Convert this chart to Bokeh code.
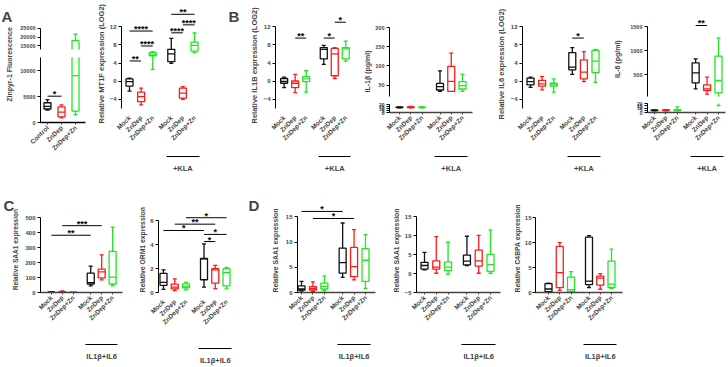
import math
from bokeh.plotting import figure
from bokeh.layouts import row, column
from bokeh.models import Range1d, FixedTicker, LinearAxis, Label, Title, ColumnDataSource
from bokeh.embed import file_html
from bokeh.resources import INLINE
from bokeh.core.properties import value

FONT = "Liberation Sans"
BLACK, RED, GREEN = "#111111", "#ff1a1a", "#22e622"
SERIES_COLORS = [BLACK, RED, GREEN, BLACK, RED, GREEN]

# box positions on the x scale (treated group set apart from the untreated one)
X3 = [10, 20, 30]
X6 = [10, 20, 30, 46, 56, 66]
CAT3 = ["Control", "ZnDep", "ZnDep+Zn"]
CAT6 = ["Mock", "ZnDep", "ZnDep+Zn", "Mock", "ZnDep", "ZnDep+Zn"]

# ---------------- data: whisker low, Q1, median, Q3, whisker high ----------------
# A: Zinpyr-1 fluorescence
zinpyr_lo = [2400, 900, 1500]
zinpyr_q1 = [2600, 1100, 2200]
zinpyr_med = [3100, 2000, 9000]
zinpyr_q3 = [3800, 3000, 18000]
zinpyr_hi = [4400, 3400, 21700]

# A: MT1F (LOG2)
mt1f_lo = [-2.2, -5.2, 2.6, 3.9, -4.0, 6.3]
mt1f_q1 = [-1.1, -4.5, 5.6, 4.3, -3.7, 6.6]
mt1f_med = [-0.1, -3.4, 5.8, 6.0, -2.6, 7.9]
mt1f_q3 = [0.5, -2.4, 6.3, 7.0, -1.5, 8.6]
mt1f_hi = [0.65, -1.5, 6.5, 9.4, -1.2, 10.6]

# B: IL1B (LOG2)
il1b_lo = [-1.4, -2.5, -2.4, 3.7, 0.6, 4.4]
il1b_q1 = [-0.45, -1.4, -0.1, 4.9, 1.2, 4.9]
il1b_med = [-0.05, -0.45, 0.5, 7.0, 6.0, 7.1]
il1b_q3 = [0.6, 0.05, 1.0, 7.4, 7.2, 7.4]
il1b_hi = [0.9, 1.5, 2.3, 7.9, 7.4, 8.8]

# B: IL-1beta protein (pg/ml)
il1b_pg_lo = [11.5, 11.5, 11.5, 33.5, 33.5, 33.5]
il1b_pg_q1 = [12.5, 12.5, 12.2, 37, 33.5, 39.6]
il1b_pg_med = [13, 13.2, 12.8, 46, 59.5, 48.3]
il1b_pg_q3 = [13.6, 14, 13.6, 54, 98.5, 58.7]
il1b_pg_hi = [14.2, 15, 14.5, 87, 133, 78.6]

# B: IL6 (LOG2)
il6_lo = [-1.35, -1.9, -2.4, 1.5, -0.1, -0.25]
il6_q1 = [-0.8, -1.1, -1.1, 2.5, 0.5, 1.9]
il6_med = [-0.1, -0.6, -0.8, 3.1, 2.0, 4.4]
il6_q3 = [0.7, 0.2, -0.45, 6.3, 4.7, 6.8]
il6_hi = [0.9, 1.0, 0.5, 7.4, 6.5, 7.0]

# B: IL-6 protein (pg/ml)
il6_pg_lo = [3.5, 3.8, 3.8, 201, 90, 15.4]
il6_pg_q1 = [4.0, 4.2, 4.2, 326, 167, 118]
il6_pg_med = [4.6, 5.0, 5.0, 535, 201, 375]
il6_pg_q3 = [5.2, 5.8, 6.5, 743, 285, 882]
il6_pg_hi = [5.8, 6.3, 12.3, 826, 444, 1264]

# C: SAA1
c_saa1_lo = [1.0, 1.5, 1.2, 44, 85, 44]
c_saa1_q1 = [1.5, 2.5, 2.0, 57, 97.5, 57]
c_saa1_med = [2.0, 4.0, 3.5, 66, 138, 103]
c_saa1_q3 = [2.5, 6.0, 5.0, 129, 156, 275]
c_saa1_hi = [3.0, 10.0, 6.5, 177, 252, 438]

# C: ORM1
orm1_lo = [0.27, 0.15, 0.22, 0.45, 0.33, 0.3]
orm1_q1 = [0.6, 0.3, 0.4, 1.07, 0.78, 0.56]
orm1_med = [0.85, 0.45, 0.53, 2.82, 1.9, 1.67]
orm1_q3 = [1.6, 0.7, 0.73, 2.85, 2.0, 2.0]
orm1_hi = [1.9, 1.15, 0.85, 4.07, 2.27, 2.1]

# D: SAA1 (first set)
d_saa1_lo = [0.3, 0.25, 0.35, 3.0, 2.5, 0.8]
d_saa1_q1 = [0.5, 0.5, 0.7, 3.85, 3.15, 2.2]
d_saa1_med = [0.7, 0.8, 1.2, 5.95, 5.15, 6.4]
d_saa1_q3 = [1.3, 1.15, 1.85, 8.8, 8.95, 8.7]
d_saa1_hi = [2.2, 2.1, 3.3, 13.8, 12.5, 11.5]

# D: SAA1 (second set)
d2_saa1_lo = [1.0, 0.1, -0.1, 2.15, 0.1, 0.1]
d2_saa1_q1 = [1.2, 1.2, 0.8, 2.3, 2.0, 0.6]
d2_saa1_med = [2.15, 1.7, 1.7, 3.3, 3.4, 2.4]
d2_saa1_q3 = [3.0, 3.4, 3.1, 4.9, 6.2, 5.1]
d2_saa1_hi = [5.6, 9.8, 8.3, 9.9, 10.1, 11.6]

# D: C4BPA
c4bpa_lo = [0.0, 0.43, 0.0, 1.0, 0.65, 0.85]
c4bpa_q1 = [0.16, 0.97, 0.16, 1.6, 1.5, 1.0]
c4bpa_med = [0.7, 4.0, 0.55, 2.3, 2.9, 1.7]
c4bpa_q3 = [1.8, 9.25, 3.1, 11.1, 3.3, 6.3]
c4bpa_hi = [1.9, 10.0, 4.2, 11.4, 3.8, 8.7]

# significance brackets: (box i, box j, bracket height, stars)
zinpyr_sig = [(0, 1, 5060, "*")]
mt1f_sig = [(3, 5, 14.71, "**"), (4, 5, 12.39, "****"), (0, 2, 11.03, "****"),
            (3, 4, 10.64, "****"), (1, 2, 7.74, "****"), (0, 1, 4.45, "**")]
il1b_sig = [(1, 2, 9.48, "**"), (3, 4, 9.48, "*"), (4, 5, 12.97, "*")]
il6_sig = [(3, 4, 9.48, "*")]
il6_pg_sig = [(3, 4, 1521, "**")]
c_saa1_sig = [(0, 3, 383, "**"), (1, 4, 447, "***")]
orm1_sig = [(2, 5, 6.27, "*"), (1, 4, 5.73, "**"), (0, 3, 5.2, "*"),
            (3, 5, 4.87, "*"), (3, 4, 4.27, "*")]
d_saa1_sig = [(0, 3, 16.1, "*"), (1, 4, 14.7, "*")]

# ---------------- layout constants ----------------
TOP_H, TOP_T, TOP_B = 175, 5, 53          # top row: frames span page y 5..122
BOT_H, BOT_T, BOT_B = 192, 20, 50         # bottom row: frames span page y 195..317
TOP_Y0, TOP_Y1 = 5, 122
BOT_Y0, BOT_Y1 = 195, 317


# ---------------- helpers ----------------
def xspan(L, R, first_px, last_px, first=10, last=66):
    s = (last_px - first_px) / (last - first)
    start = first - (first_px - L) / s
    return (start, start + (R - L) / s)


def yspan(T, B, v0, p0, v1, p1):
    s = (p0 - p1) / (v1 - v0)
    return (v0 - (B - p0) / s, v1 + (p1 - T) / s)


def blank(p):
    p.xgrid.visible = False
    p.ygrid.visible = False
    p.outline_line_color = None
    p.background_fill_color = "white"
    p.border_fill_color = "white"


def panel(w, h, l, r, t, b, xr, yr, xaxis=True):
    p = figure(width=w, height=h, x_range=Range1d(*xr), y_range=Range1d(*yr),
               output_backend="svg", toolbar_location=None, tools="",
               x_axis_location="below" if xaxis else None,
               min_border_left=l, min_border_right=r, min_border_top=t, min_border_bottom=b)
    blank(p)
    return p


def text_fig(w, h, t, b, y_top, y_bottom, items):
    # strip holding letters and axis titles, addressed in page pixels
    p = figure(width=w, height=h, x_range=Range1d(0, w), y_range=Range1d(y_bottom, y_top),
               output_backend="svg", toolbar_location=None, tools="",
               x_axis_location=None, y_axis_location=None,
               min_border_left=0, min_border_right=0, min_border_top=t, min_border_bottom=b)
    blank(p)
    for x, y, txt, size, angle in items:
        letter = angle == 0
        p.add_layout(Label(x=x, y=y, text=txt, angle=angle, text_font=FONT,
                           text_font_style="bold", text_font_size=size,
                           text_align="left" if letter else "center",
                           text_baseline="alphabetic" if letter else "middle"))
    return p


def top_text(w, items):
    return text_fig(w, TOP_H, TOP_T, TOP_B, TOP_Y0, TOP_Y1, items)


def bot_text(w, items):
    return text_fig(w, BOT_H, BOT_T, BOT_B, BOT_Y0, BOT_Y1, items)


def ylab(x, y, txt, size="7px"):
    return (x, y, txt, size, math.pi / 2)


def side_title(p, text, offset, standoff, size):
    # axis title starting `offset` px above the bottom of the plot frame
    p.add_layout(Title(text=text, align="left", offset=offset, standoff=standoff,
                       text_font=FONT, text_font_style="bold", text_font_size=size), "left")


def y_axis(p, ticks, bounds, size="6px", standoff=2):
    ax = p.yaxis[0]
    ax.ticker = FixedTicker(ticks=ticks)
    ax.bounds = bounds
    ax.axis_line_color = "black"
    ax.axis_line_width = 1
    ax.major_tick_line_color = "black"
    ax.major_tick_out = 3
    ax.major_tick_in = 0
    ax.minor_tick_line_color = None
    ax.major_label_text_font = FONT
    ax.major_label_text_font_style = "bold"
    ax.major_label_text_font_size = size
    ax.major_label_standoff = standoff


def x_axis(p, ticks, cats, line=True, pad=None):
    ax = p.xaxis[0]
    ax.ticker = FixedTicker(ticks=ticks)
    ax.major_label_overrides = dict(zip(ticks, cats))
    ax.major_label_orientation = math.pi / 4
    ax.major_label_text_font = FONT
    ax.major_label_text_font_style = "bold"
    ax.major_label_text_font_size = "6.5px"
    ax.major_label_standoff = 2
    ax.minor_tick_line_color = None
    if pad:
        # blank axis title: leaves room between the tick labels and the group line
        ax.axis_label = " "
        ax.axis_label_text_font_size = pad
        ax.axis_label_standoff = 0
    if line:
        ax.axis_line_color = "#444444"
        ax.axis_line_width = 1.3
        ax.major_tick_line_color = "#444444"
        ax.major_tick_out = 2
        ax.major_tick_in = 0
    else:
        ax.axis_line_color = None
        ax.major_tick_line_color = None


def group_axis(p, text, standoff=1):
    g = LinearAxis(ticker=FixedTicker(ticks=[56]), major_label_overrides={56: text},
                   bounds=(41.5, 70.5), major_tick_line_color=None, minor_tick_line_color=None,
                   axis_line_color="black", axis_line_width=1.2, major_label_standoff=standoff,
                   major_label_text_font=FONT, major_label_text_font_style="bold",
                   major_label_text_font_size="7.5px")
    p.add_layout(g, "below")


def boxes(p, xs, lo, q1, med, q3, hi):
    src = ColumnDataSource(dict(
        x=xs, lo=lo, q1=q1, med=med, q3=q3, hi=hi, color=SERIES_COLORS[:len(xs)],
        mid=[(a + b) / 2 for a, b in zip(q1, q3)],
        span=[b - a for a, b in zip(q1, q3)]))
    kw = dict(source=src, line_color="color", line_width=1.3)
    p.segment(x0="x", y0="q3", x1="x", y1="hi", **kw)
    p.segment(x0="x", y0="lo", x1="x", y1="q1", **kw)
    p.scatter(x="x", y="hi", marker="dash", size=4, **kw)
    p.scatter(x="x", y="lo", marker="dash", size=4, **kw)
    p.rect(x="x", y="mid", width=7, height="span", width_units="screen",
           fill_color="white", **kw)
    p.scatter(x="x", y="med", marker="dash", size=7, **kw)


def brackets(p, xs, items):
    src = ColumnDataSource(dict(
        x0=[xs[i] for i, j, lv, t in items], x1=[xs[j] for i, j, lv, t in items],
        xm=[(xs[i] + xs[j]) / 2 for i, j, lv, t in items],
        y=[lv for i, j, lv, t in items], t=[t for i, j, lv, t in items]))
    p.segment(x0="x0", y0="y", x1="x1", y1="y", source=src, line_color="black", line_width=1)
    p.text(x="xm", y="y", text="t", source=src, text_align="center", text_baseline="middle",
           y_offset=-2, text_font=value(FONT), text_font_style="bold", text_font_size="9px",
           text_color="black")


# ---------------- top row ----------------
# A: Zinpyr-1 (broken axis)
a1_text = top_text(16, [(1, 18, "A", "15px", 0), ylab(9, 72, "Zinpyr-1 Fluorescence")])
a1_x = xspan(40, 85, 47, 75, 10, 30)
a1_up = panel(72, 53, 24, 3, TOP_T, 4, a1_x, yspan(5, 49, 13000, 49, 25000, 27.7), xaxis=False)
a1_lo = panel(72, 122, 24, 3, 4, TOP_B, a1_x, (0, 12500))
for p in (a1_up, a1_lo):
    boxes(p, X3, zinpyr_lo, zinpyr_q1, zinpyr_med, zinpyr_q3, zinpyr_hi)
y_axis(a1_up, [15000, 20000, 25000], (13000, 25000), size="5.5px")
y_axis(a1_lo, [0, 5000, 10000], (0, 12500), size="5.5px")
x_axis(a1_lo, X3, CAT3, line=True)
a1_lo.xaxis[0].axis_line_color = "black"
brackets(a1_lo, X3, zinpyr_sig)

# A: MT1F
log_y = yspan(TOP_Y0, TOP_Y1, -6, 122, 12, 29)
a2 = panel(122, TOP_H, 33, 10, TOP_T, TOP_B, xspan(121, 200, 129, 194), log_y)
boxes(a2, X6, mt1f_lo, mt1f_q1, mt1f_med, mt1f_q3, mt1f_hi)
y_axis(a2, [-4, 0, 4, 8, 12], (-6, 12))
side_title(a2, "Relative MT1F expression (LOG2)", -15, 2, "7.5px")
x_axis(a2, X6, CAT6, line=False, pad="5px")
group_axis(a2, "+KLA")
brackets(a2, X6, mt1f_sig)

# B: IL1B
b1_text = top_text(36, [(18, 17.5, "B", "15px", 0)])
b1 = panel(114, TOP_H, 26, 8, TOP_T, TOP_B, xspan(272, 352, 281, 345), log_y)
boxes(b1, X6, il1b_lo, il1b_q1, il1b_med, il1b_q3, il1b_hi)
y_axis(b1, [-4, 0, 4, 8, 12], (-6, 12))
side_title(b1, "Relative IL1B expression (LOG2)", -15, 3, "7.5px")
x_axis(b1, X6, CAT6, line=False, pad="5px")
group_axis(b1, "+KLA")
brackets(b1, X6, il1b_sig)

# B: IL-1beta protein (broken axis)
b2_text = top_text(12, [ylab(7, 80, "IL-1β (pg/ml)")])
b2_x = xspan(389, 472, 399, 462)
b2_up = panel(108, 100, 17, 8, TOP_T, 4, b2_x, yspan(5, 96, 20, 96, 200, 27), xaxis=False)
b2_lo = panel(108, 75, 17, 8, 4, TOP_B, b2_x, (0, 20))
for p in (b2_up, b2_lo):
    boxes(p, X6, il1b_pg_lo, il1b_pg_q1, il1b_pg_med, il1b_pg_q3, il1b_pg_hi)
y_axis(b2_up, [50, 100, 150, 200], (20, 200), size="5.5px")
y_axis(b2_lo, [0, 5, 10, 15, 20], (0, 20), size="5px")
x_axis(b2_lo, X6, CAT6, line=True, pad="5px")
group_axis(b2_lo, "+KLA")

# B: IL6
b3 = panel(128, TOP_H, 42, 8, TOP_T, TOP_B, xspan(522, 600, 530, 595), log_y)
boxes(b3, X6, il6_lo, il6_q1, il6_med, il6_q3, il6_hi)
y_axis(b3, [-4, 0, 4, 8, 12], (-6, 12))
side_title(b3, "Relative IL6 expression (LOG2)", -11, 3, "7.5px")
x_axis(b3, X6, CAT6, line=False, pad="5px")
group_axis(b3, "+KLA")
brackets(b3, X6, il6_sig)

# B: IL-6 protein (broken axis)
b4_text = top_text(16, [ylab(9, 66, "IL-6 (pg/ml)")])
b4_x = xspan(647, 725, 654, 718)
b4_up = panel(104, 100, 23, 3, TOP_T, 4, b4_x, yspan(5, 96, 500, 74, 1500, 26), xaxis=False)
b4_lo = panel(104, 75, 23, 3, 3, TOP_B, b4_x, (0, 20))
for p in (b4_up, b4_lo):
    boxes(p, X6, il6_pg_lo, il6_pg_q1, il6_pg_med, il6_pg_q3, il6_pg_hi)
y_axis(b4_up, [500, 1000, 1500], (42, 1500), size="5.5px")
y_axis(b4_lo, [0, 5, 10, 15, 20], (0, 20), size="5px")
x_axis(b4_lo, X6, CAT6, line=True, pad="5px")
group_axis(b4_lo, "+KLA")
brackets(b4_up, X6, il6_pg_sig)

top = row(a1_text, column(a1_up, a1_lo), a2, b1_text, b1, b2_text, column(b2_up, b2_lo),
          b3, b4_text, column(b4_up, b4_lo))

# ---------------- bottom row ----------------
c1_text = bot_text(22, [(3, 208, "C", "15px", 0),
                        ylab(15, 263, "Relative SAA1 expression", "6.6px")])
c1 = panel(108, BOT_H, 17, 8, BOT_T, BOT_B, xspan(39, 122, 50, 112),
           yspan(BOT_Y0, BOT_Y1, 0, 317, 500, 223))
boxes(c1, X6, c_saa1_lo, c_saa1_q1, c_saa1_med, c_saa1_q3, c_saa1_hi)
y_axis(c1, [0, 100, 200, 300, 400, 500], (0, 500))
x_axis(c1, X6, CAT6, line=True, pad="12px")
group_axis(c1, "IL1β+IL6")
brackets(c1, X6, c_saa1_sig)

c2 = panel(115, BOT_H, 28, 10, BOT_T, BOT_B, xspan(158, 235, 163, 226),
           yspan(BOT_Y0, BOT_Y1, 0, 317, 6, 227))
boxes(c2, X6, orm1_lo, orm1_q1, orm1_med, orm1_q3, orm1_hi)
y_axis(c2, [0, 2, 4, 6], (0, 6))
side_title(c2, "Relative ORM1 expression", 0, 4, "6.8px")
x_axis(c2, X6, CAT6, line=False, pad="12px")
group_axis(c2, "IL1β+IL6")
brackets(c2, X6, orm1_sig)

d1_text = bot_text(17, [(3, 207, "D", "15px", 0)])
d1 = panel(123, BOT_H, 35, 10, BOT_T, BOT_B, xspan(297, 375, 301, 365),
           yspan(BOT_Y0, BOT_Y1, 0, 317, 15, 222))
boxes(d1, X6, d_saa1_lo, d_saa1_q1, d_saa1_med, d_saa1_q3, d_saa1_hi)
y_axis(d1, [0, 5, 10, 15], (0, 15))
side_title(d1, "Relative SAA1 expression", 0, 7, "6.8px")
x_axis(d1, X6, CAT6, line=True, pad="12px")
group_axis(d1, "IL1β+IL6")
brackets(d1, X6, d_saa1_sig)

d2 = panel(118, BOT_H, 31, 3, BOT_T, BOT_B, xspan(416, 500, 424, 490),
           yspan(BOT_Y0, BOT_Y1, -5, 317, 15, 222))
boxes(d2, X6, d2_saa1_lo, d2_saa1_q1, d2_saa1_med, d2_saa1_q3, d2_saa1_hi)
y_axis(d2, [-5, 0, 5, 10, 15], (-5, 15))
side_title(d2, "Relative SAA1 expression", 0, 3, "6.8px")
x_axis(d2, X6, CAT6, line=True, pad="12px")
group_axis(d2, "IL1β+IL6")

d3 = panel(225, BOT_H, 32, 106, BOT_T, BOT_B, xspan(535, 622, 548, 611),
           yspan(BOT_Y0, BOT_Y1, 0, 317, 15, 223))
boxes(d3, X6, c4bpa_lo, c4bpa_q1, c4bpa_med, c4bpa_q3, c4bpa_hi)
y_axis(d3, [0, 5, 10, 15], (0, 15), standoff=1)
side_title(d3, "Relative C4BPA expression", 0, 1, "6.8px")
x_axis(d3, X6, CAT6, line=True, pad="12px")
group_axis(d3, "IL1β+IL6")

bottom = row(c1_text, c1, c2, d1_text, d1, d2, d3)

layout = column(top, bottom)
open("out.html", "w").write(file_html(layout, INLINE))
